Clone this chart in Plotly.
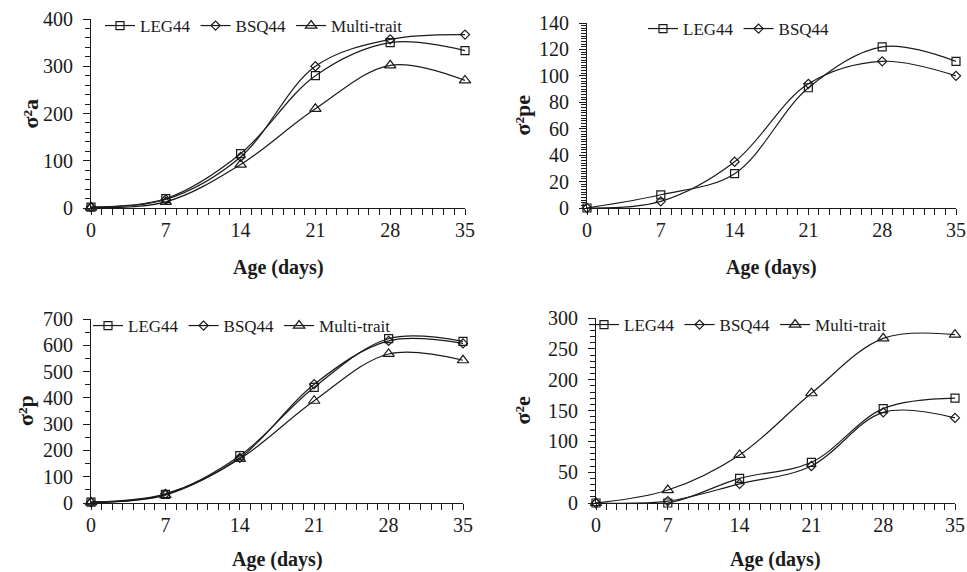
import plotly.graph_objects as go

# ---------------- data ----------------
days = [0, 7, 14, 21, 28, 35]

a_leg = [2, 20, 115, 280, 350, 333]
a_bsq = [2, 18, 108, 300, 357, 367]
a_multi = [1, 13, 92, 210, 302, 270]

pe_leg = [0, 10, 26, 91, 122, 111]
pe_bsq = [0, 5, 35, 94, 111, 100]

p_leg = [3, 33, 180, 440, 625, 615]
p_bsq = [3, 35, 172, 452, 617, 607]
p_multi = [2, 30, 168, 389, 567, 543]

e_leg = [0, 0, 40, 66, 153, 170]
e_bsq = [0, 3, 31, 60, 147, 138]
e_multi = [0, 21, 78, 178, 267, 273]

series_names = ["LEG44", "BSQ44", "Multi-trait"]
x_ticks = [0, 7, 14, 21, 28, 35]
y_titles = ["σ²a", "σ²pe", "σ²p", "σ²e"]
x_title = "Age (days)"

# ---------------- layout helpers ----------------
W, H = 967, 572
FONT = "Liberation Serif, Times New Roman, serif"
INK = "#1a1a1a"

# pixel boxes: (left, right, top, bottom)
panels = [
    dict(box=(91, 465, 19, 208), ymax=400, dmaj=100, dmin=20, ytx=30, xty=59),
    dict(box=(587, 956, 23, 208), ymax=140, dmaj=20, dmin=2, ytx=522, xty=59),
    dict(box=(91, 463, 319, 503), ymax=700, dmaj=100, dmin=50, ytx=25, xty=56),
    dict(box=(596, 955, 318, 503), ymax=300, dmaj=50, dmin=10, ytx=522, xty=56),
]
legend_pos = [(100, 26), (643, 29), (88, 326), (584, 325)]

data_sets = [
    [a_leg, a_bsq, a_multi],
    [pe_leg, pe_bsq],
    [p_leg, p_bsq, p_multi],
    [e_leg, e_bsq, e_multi],
]
markers = [
    dict(symbol="square-open", size=8),
    dict(symbol="diamond-open", size=7),
    dict(symbol="triangle-up-open", size=10),
]

fig = go.Figure()
layout = dict()
annotations = []

for i, (pn, ds) in enumerate(zip(panels, data_sets)):
    k = "" if i == 0 else str(i + 1)
    L, R, T, B = pn["box"]
    leg = "legend" if i == 0 else f"legend{i + 1}"
    for j, vals in enumerate(ds):
        fig.add_trace(go.Scatter(
            x=days, y=vals, name=series_names[j],
            mode="lines+markers",
            line=dict(color=INK, width=1.2, shape="spline", smoothing=1.0),
            marker=dict(color=INK, line=dict(color=INK, width=1.2), **markers[j]),
            cliponaxis=False,
            xaxis=f"x{k}", yaxis=f"y{k}", legend=leg,
        ))
    layout[f"xaxis{k}"] = dict(
        domain=[L / W, R / W], anchor=f"y{k}", range=[0, 35], automargin=False,
        tickmode="array", tickvals=x_ticks,
        ticks="outside", ticklen=6, tickwidth=1, tickcolor=INK,
        minor=dict(dtick=1, tick0=0, ticks="outside", ticklen=6, tickcolor=INK, tickwidth=1),
        showline=True, linecolor=INK, linewidth=1, showgrid=False, zeroline=False,
        tickfont=dict(family=FONT, size=20, color=INK), fixedrange=True,
        ticklabeloverflow="allow", ticklabelstandoff=-2,
    )
    layout[f"yaxis{k}"] = dict(
        domain=[1 - B / H, 1 - T / H], anchor=f"x{k}", range=[0, pn["ymax"]], automargin=False,
        dtick=pn["dmaj"], tick0=0,
        ticks="outside", ticklen=7, tickwidth=1, tickcolor=INK,
        minor=dict(dtick=pn["dmin"], tick0=0, ticks="outside", ticklen=5, tickcolor=INK, tickwidth=1),
        showline=True, linecolor=INK, linewidth=1, showgrid=False, zeroline=False,
        tickfont=dict(family=FONT, size=20, color=INK), fixedrange=True,
        ticklabeloverflow="allow", ticklabelstandoff=6,
    )
    # axis titles as text annotations
    annotations.append(dict(
        text=f"<b>{x_title}</b>", x=(L + R) / 2 / W, y=1 - (B + pn["xty"]) / H,
        xref="paper", yref="paper", showarrow=False, xanchor="center", yanchor="middle",
        font=dict(family=FONT, size=20, color=INK),
    ))
    annotations.append(dict(
        text=f"<b>{y_titles[i]}</b>", x=pn["ytx"] / W, y=1 - (T + B) / 2 / H,
        xref="paper", yref="paper", showarrow=False, xanchor="center", yanchor="middle",
        textangle=-90, font=dict(family=FONT, size=22, color=INK),
    ))
    lx, ly = legend_pos[i]
    layout[leg] = dict(
        x=lx / W, y=1 - ly / H, xanchor="left", yanchor="middle",
        xref="container", yref="container",
        orientation="h", bgcolor="rgba(0,0,0,0)", borderwidth=0,
        font=dict(family=FONT, size=17, color=INK), itemwidth=30,
        tracegroupgap=0, itemclick=False, itemdoubleclick=False,
    )

fig.update_layout(
    width=W, height=H, margin=dict(l=0, r=0, t=0, b=0, autoexpand=False),
    paper_bgcolor="white", plot_bgcolor="white",
    showlegend=True, annotations=annotations, **layout,
)

fig.write_html(
    "out.html",
    config={"displayModeBar": False},
    post_script="document.body.style.margin='0';document.body.style.overflow='hidden';",
)
